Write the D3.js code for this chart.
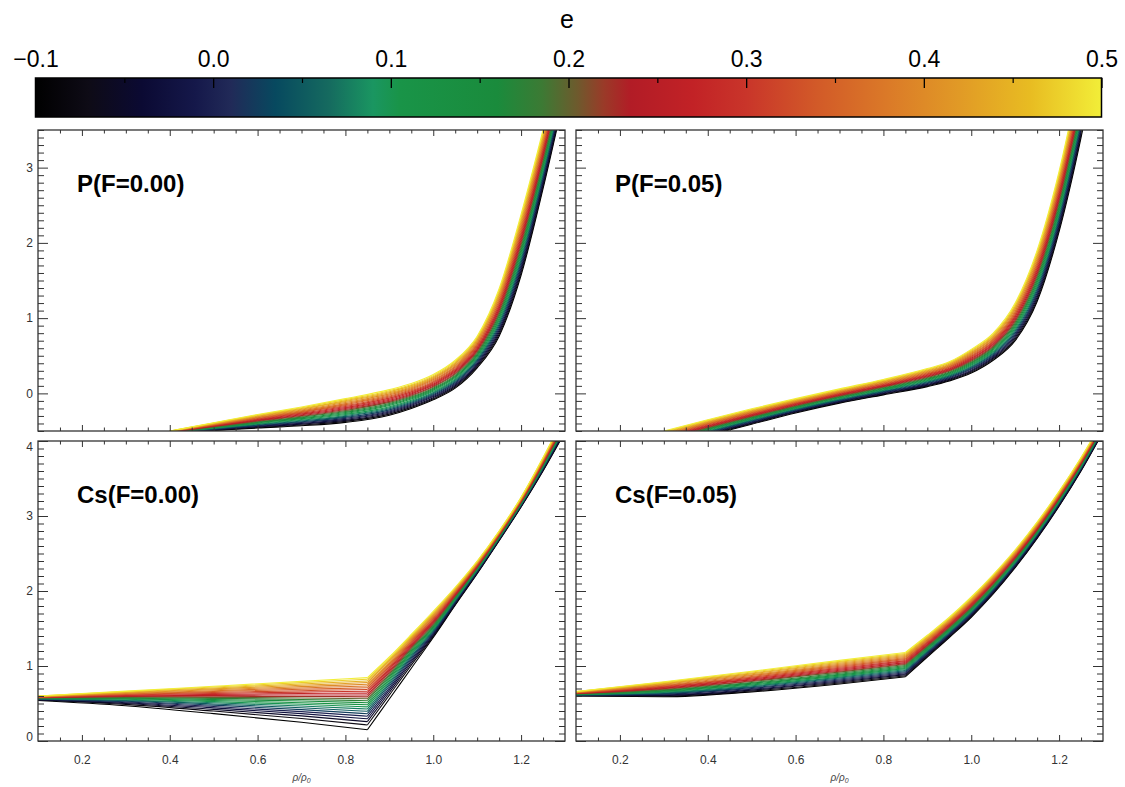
<!DOCTYPE html>
<html><head><meta charset="utf-8">
<script src="https://cdn.jsdelivr.net/npm/d3@7"></script>
<style>
body{margin:0;background:#fff}
svg{display:block}
text{font-family:"Liberation Sans",Arial,Helvetica,sans-serif}
</style>
</head><body>
<svg id="c" width="1125" height="787"></svg>
<script>
// ---------------- data ----------------
const eValues = [-0.1,-0.075,-0.05,-0.025,0,0.025,0.05,0.075,0.1,0.125,0.15,0.175,0.2,0.225,0.25,0.275,0.3,0.325,0.35,0.375,0.4,0.425,0.45,0.475,0.5];
const colorStopE = [-0.1,-0.07,-0.04,-0.01,0.01,0.035,0.065,0.09,0.105,0.16,0.185,0.205,0.22,0.235,0.27,0.30,0.34,0.38,0.42,0.46,0.50];
const colorStopC = ["#000000","#0e0b16","#0b0a33","#15184a","#212a58","#07495f","#156a5f","#1a9661","#199448","#1a8b3c","#3c7a34","#6e5a2d","#9a3a28","#b21c26","#c22226","#c9352a","#d25a28","#db7a28","#e19a26","#e8bc22","#f2ee38"];
const colorbarTicks = [-0.1,0,0.1,0.2,0.3,0.4,0.5];
const colorbarMinor = [-0.05,0.05,0.15,0.25,0.35,0.45];
const xTicks = [0.2,0.4,0.6,0.8,1.0,1.2];
const xMinor = [0.15,0.25,0.3,0.35,0.45,0.5,0.55,0.65,0.7,0.75,0.85,0.9,0.95,1.05,1.1,1.15,1.25];
const yTicksP = [0,1,2,3];
const yTicksCs = [0,1,2,3,4];

// x positions of sampled rows (one row = value of each of the 25 curves)
const xP00 = [0.40,0.50,0.60,0.70,0.80,0.90,0.95,1.00,1.05,1.10,1.15,1.20,1.25,1.30];
const pF000 = [
[-0.53,-0.529,-0.528,-0.526,-0.525,-0.524,-0.523,-0.521,-0.52,-0.519,-0.518,-0.516,-0.515,-0.514,-0.513,-0.511,-0.51,-0.509,-0.508,-0.506,-0.505,-0.504,-0.503,-0.501,-0.5],
[-0.495,-0.491,-0.486,-0.482,-0.478,-0.473,-0.469,-0.464,-0.46,-0.456,-0.451,-0.447,-0.443,-0.438,-0.434,-0.429,-0.425,-0.421,-0.416,-0.412,-0.408,-0.403,-0.399,-0.394,-0.39],
[-0.46,-0.453,-0.445,-0.438,-0.43,-0.423,-0.415,-0.408,-0.4,-0.393,-0.385,-0.378,-0.37,-0.363,-0.355,-0.348,-0.34,-0.333,-0.325,-0.318,-0.31,-0.303,-0.295,-0.288,-0.28],
[-0.43,-0.42,-0.409,-0.399,-0.388,-0.378,-0.368,-0.357,-0.347,-0.336,-0.326,-0.315,-0.305,-0.295,-0.284,-0.274,-0.263,-0.253,-0.243,-0.232,-0.222,-0.211,-0.201,-0.19,-0.18],
[-0.385,-0.372,-0.359,-0.346,-0.332,-0.319,-0.306,-0.293,-0.28,-0.267,-0.254,-0.241,-0.227,-0.214,-0.201,-0.188,-0.175,-0.162,-0.149,-0.136,-0.122,-0.109,-0.096,-0.083,-0.07],
[-0.29,-0.276,-0.262,-0.247,-0.233,-0.219,-0.205,-0.191,-0.177,-0.162,-0.148,-0.134,-0.12,-0.106,-0.092,-0.077,-0.063,-0.049,-0.035,-0.021,-0.007,0.008,0.022,0.036,0.05],
[-0.2,-0.186,-0.172,-0.159,-0.145,-0.131,-0.117,-0.104,-0.09,-0.076,-0.062,-0.049,-0.035,-0.021,-0.007,0.006,0.02,0.034,0.048,0.061,0.075,0.089,0.103,0.116,0.13],
[-0.085,-0.071,-0.057,-0.043,-0.029,-0.015,-0.001,0.013,0.027,0.041,0.055,0.069,0.083,0.096,0.11,0.124,0.138,0.152,0.166,0.18,0.194,0.208,0.222,0.236,0.25],
[0.07,0.085,0.101,0.116,0.132,0.147,0.163,0.178,0.193,0.209,0.224,0.24,0.255,0.27,0.286,0.301,0.317,0.332,0.348,0.363,0.378,0.394,0.409,0.425,0.44],
[0.34,0.358,0.375,0.393,0.41,0.428,0.445,0.463,0.48,0.498,0.515,0.533,0.55,0.568,0.585,0.603,0.62,0.638,0.655,0.673,0.69,0.708,0.725,0.743,0.76],
[0.76,0.786,0.813,0.839,0.865,0.891,0.918,0.944,0.97,0.996,1.023,1.049,1.075,1.101,1.128,1.154,1.18,1.206,1.233,1.259,1.285,1.311,1.338,1.364,1.39],
[1.57,1.604,1.638,1.671,1.705,1.739,1.773,1.806,1.84,1.874,1.908,1.941,1.975,2.009,2.043,2.076,2.11,2.144,2.178,2.211,2.245,2.279,2.313,2.346,2.38],
[2.72,2.753,2.785,2.818,2.85,2.883,2.915,2.948,2.98,3.013,3.045,3.078,3.11,3.143,3.175,3.208,3.24,3.273,3.305,3.338,3.37,3.403,3.435,3.468,3.5],
[4,4.029,4.058,4.088,4.117,4.146,4.175,4.204,4.233,4.263,4.292,4.321,4.35,4.379,4.408,4.438,4.467,4.496,4.525,4.554,4.583,4.613,4.642,4.671,4.7]
];

const xP05 = [0.30,0.40,0.50,0.60,0.70,0.80,0.90,0.95,1.00,1.05,1.10,1.15,1.20,1.25,1.30];
const pF005 = [
[-0.72,-0.711,-0.702,-0.692,-0.683,-0.674,-0.665,-0.656,-0.647,-0.637,-0.628,-0.619,-0.61,-0.601,-0.592,-0.582,-0.573,-0.564,-0.555,-0.546,-0.537,-0.527,-0.518,-0.509,-0.5],
[-0.56,-0.551,-0.542,-0.534,-0.525,-0.516,-0.507,-0.499,-0.49,-0.481,-0.472,-0.464,-0.455,-0.446,-0.437,-0.429,-0.42,-0.411,-0.402,-0.394,-0.385,-0.376,-0.367,-0.359,-0.35],
[-0.41,-0.401,-0.393,-0.384,-0.376,-0.367,-0.359,-0.35,-0.342,-0.333,-0.325,-0.316,-0.308,-0.299,-0.29,-0.282,-0.273,-0.265,-0.256,-0.248,-0.239,-0.231,-0.222,-0.214,-0.205],
[-0.26,-0.252,-0.244,-0.236,-0.228,-0.22,-0.213,-0.205,-0.197,-0.189,-0.181,-0.173,-0.165,-0.157,-0.149,-0.141,-0.133,-0.125,-0.118,-0.11,-0.102,-0.094,-0.086,-0.078,-0.07],
[-0.13,-0.122,-0.114,-0.106,-0.098,-0.09,-0.083,-0.075,-0.067,-0.059,-0.051,-0.043,-0.035,-0.027,-0.019,-0.011,-0.003,0.005,0.013,0.02,0.028,0.036,0.044,0.052,0.06],
[-0.02,-0.011,-0.003,0.006,0.014,0.023,0.031,0.04,0.048,0.057,0.065,0.074,0.083,0.091,0.1,0.108,0.117,0.125,0.134,0.142,0.151,0.159,0.168,0.176,0.185],
[0.09,0.1,0.11,0.12,0.13,0.14,0.15,0.16,0.17,0.18,0.19,0.2,0.21,0.22,0.23,0.24,0.25,0.26,0.27,0.28,0.29,0.3,0.31,0.32,0.33],
[0.165,0.176,0.186,0.197,0.208,0.218,0.229,0.239,0.25,0.261,0.271,0.282,0.293,0.303,0.314,0.324,0.335,0.346,0.356,0.367,0.378,0.388,0.399,0.409,0.42],
[0.27,0.283,0.296,0.309,0.323,0.336,0.349,0.362,0.375,0.388,0.401,0.414,0.428,0.441,0.454,0.467,0.48,0.493,0.506,0.519,0.533,0.546,0.559,0.572,0.585],
[0.44,0.455,0.47,0.485,0.5,0.515,0.53,0.545,0.56,0.575,0.59,0.605,0.62,0.635,0.65,0.665,0.68,0.695,0.71,0.725,0.74,0.755,0.77,0.785,0.8],
[0.7,0.721,0.742,0.763,0.783,0.804,0.825,0.846,0.867,0.888,0.908,0.929,0.95,0.971,0.992,1.013,1.033,1.054,1.075,1.096,1.117,1.138,1.158,1.179,1.2],
[1.22,1.248,1.277,1.305,1.333,1.362,1.39,1.418,1.447,1.475,1.503,1.532,1.56,1.588,1.617,1.645,1.673,1.702,1.73,1.758,1.787,1.815,1.843,1.872,1.9],
[2.15,2.183,2.217,2.25,2.283,2.317,2.35,2.383,2.417,2.45,2.483,2.517,2.55,2.583,2.617,2.65,2.683,2.717,2.75,2.783,2.817,2.85,2.883,2.917,2.95],
[3.4,3.438,3.475,3.513,3.55,3.588,3.625,3.663,3.7,3.738,3.775,3.813,3.85,3.888,3.925,3.963,4,4.038,4.075,4.113,4.15,4.188,4.225,4.263,4.3],
[4.9,4.933,4.967,5,5.033,5.067,5.1,5.133,5.167,5.2,5.233,5.267,5.3,5.333,5.367,5.4,5.433,5.467,5.5,5.533,5.567,5.6,5.633,5.667,5.7]
];

const xCs = [0.10,0.30,0.50,0.70,0.85,0.90,0.95,1.00,1.05,1.10,1.15,1.20,1.25,1.30];
const kinkIndex = 4;
const csF000 = [
[0.54,0.546,0.549,0.553,0.556,0.559,0.561,0.564,0.566,0.569,0.571,0.573,0.576,0.578,0.58,0.582,0.584,0.586,0.588,0.59,0.592,0.594,0.596,0.598,0.6],
[0.47,0.488,0.5,0.511,0.521,0.53,0.539,0.547,0.556,0.563,0.571,0.579,0.586,0.593,0.6,0.607,0.614,0.621,0.627,0.634,0.64,0.646,0.653,0.659,0.665],
[0.365,0.399,0.422,0.442,0.46,0.478,0.494,0.51,0.525,0.54,0.554,0.568,0.582,0.596,0.609,0.622,0.634,0.647,0.659,0.671,0.683,0.695,0.707,0.719,0.73],
[0.25,0.3,0.335,0.365,0.392,0.418,0.443,0.466,0.489,0.511,0.533,0.554,0.574,0.594,0.614,0.633,0.652,0.671,0.689,0.707,0.725,0.743,0.761,0.778,0.795],
[0.15,0.214,0.258,0.296,0.331,0.364,0.396,0.426,0.455,0.483,0.51,0.537,0.563,0.589,0.614,0.639,0.663,0.687,0.71,0.733,0.756,0.779,0.801,0.823,0.845],
[0.56,0.612,0.647,0.678,0.706,0.733,0.758,0.782,0.806,0.828,0.85,0.872,0.893,0.914,0.934,0.954,0.973,0.992,1.011,1.03,1.048,1.067,1.085,1.102,1.12],
[0.97,1.012,1.04,1.065,1.087,1.109,1.129,1.149,1.167,1.186,1.203,1.221,1.238,1.254,1.27,1.286,1.302,1.318,1.333,1.348,1.363,1.377,1.392,1.406,1.42],
[1.38,1.395,1.409,1.424,1.438,1.453,1.468,1.482,1.497,1.511,1.526,1.54,1.555,1.57,1.584,1.599,1.613,1.628,1.643,1.657,1.672,1.686,1.701,1.715,1.73],
[1.81,1.82,1.83,1.84,1.85,1.86,1.87,1.88,1.89,1.9,1.91,1.92,1.93,1.94,1.95,1.96,1.97,1.98,1.99,2,2.01,2.02,2.03,2.04,2.05],
[2.23,2.237,2.244,2.251,2.258,2.265,2.273,2.28,2.287,2.294,2.301,2.308,2.315,2.322,2.329,2.336,2.343,2.35,2.358,2.365,2.372,2.379,2.386,2.393,2.4],
[2.67,2.675,2.681,2.686,2.692,2.697,2.703,2.708,2.713,2.719,2.724,2.73,2.735,2.74,2.746,2.751,2.757,2.762,2.768,2.773,2.778,2.784,2.789,2.795,2.8],
[3.12,3.125,3.131,3.136,3.142,3.147,3.153,3.158,3.163,3.169,3.174,3.18,3.185,3.19,3.196,3.201,3.207,3.212,3.218,3.223,3.228,3.234,3.239,3.245,3.25],
[3.6,3.608,3.615,3.623,3.63,3.638,3.645,3.653,3.66,3.668,3.675,3.683,3.69,3.698,3.705,3.713,3.72,3.728,3.735,3.743,3.75,3.758,3.765,3.773,3.78],
[4.12,4.13,4.139,4.149,4.158,4.168,4.178,4.187,4.197,4.206,4.216,4.225,4.235,4.245,4.254,4.264,4.273,4.283,4.293,4.302,4.312,4.321,4.331,4.34,4.35]
];
const csF005 = [
[0.6,0.603,0.605,0.608,0.61,0.613,0.615,0.618,0.62,0.623,0.625,0.628,0.63,0.633,0.635,0.638,0.64,0.643,0.645,0.648,0.65,0.653,0.655,0.658,0.66],
[0.59,0.598,0.607,0.615,0.623,0.632,0.64,0.648,0.657,0.665,0.673,0.682,0.69,0.698,0.707,0.715,0.723,0.732,0.74,0.748,0.757,0.765,0.773,0.782,0.79],
[0.655,0.666,0.678,0.689,0.701,0.712,0.724,0.735,0.747,0.758,0.77,0.781,0.793,0.804,0.815,0.827,0.838,0.85,0.861,0.873,0.884,0.896,0.907,0.919,0.93],
[0.76,0.773,0.786,0.799,0.813,0.826,0.839,0.852,0.865,0.878,0.891,0.904,0.918,0.931,0.944,0.957,0.97,0.983,0.996,1.009,1.023,1.036,1.049,1.062,1.075],
[0.857,0.87,0.884,0.897,0.911,0.924,0.938,0.951,0.965,0.978,0.992,1.005,1.019,1.032,1.045,1.059,1.072,1.086,1.099,1.113,1.126,1.14,1.153,1.167,1.18],
[1.12,1.132,1.144,1.156,1.168,1.18,1.193,1.205,1.217,1.229,1.241,1.253,1.265,1.277,1.289,1.301,1.313,1.325,1.338,1.35,1.362,1.374,1.386,1.398,1.41],
[1.38,1.391,1.403,1.414,1.425,1.436,1.448,1.459,1.47,1.481,1.493,1.504,1.515,1.526,1.538,1.549,1.56,1.571,1.583,1.594,1.605,1.616,1.628,1.639,1.65],
[1.65,1.661,1.673,1.684,1.695,1.706,1.718,1.729,1.74,1.751,1.763,1.774,1.785,1.796,1.808,1.819,1.83,1.841,1.853,1.864,1.875,1.886,1.898,1.909,1.92],
[1.96,1.971,1.982,1.993,2.003,2.014,2.025,2.036,2.047,2.058,2.068,2.079,2.09,2.101,2.112,2.123,2.133,2.144,2.155,2.166,2.177,2.188,2.198,2.209,2.22],
[2.31,2.32,2.33,2.34,2.35,2.36,2.37,2.38,2.39,2.4,2.41,2.42,2.43,2.44,2.45,2.46,2.47,2.48,2.49,2.5,2.51,2.52,2.53,2.54,2.55],
[2.7,2.709,2.718,2.728,2.737,2.746,2.755,2.764,2.773,2.783,2.792,2.801,2.81,2.819,2.828,2.838,2.847,2.856,2.865,2.874,2.883,2.893,2.902,2.911,2.92],
[3.13,3.138,3.147,3.155,3.163,3.172,3.18,3.188,3.197,3.205,3.213,3.222,3.23,3.238,3.247,3.255,3.263,3.272,3.28,3.288,3.297,3.305,3.313,3.322,3.33],
[3.6,3.608,3.615,3.623,3.63,3.638,3.645,3.653,3.66,3.668,3.675,3.683,3.69,3.698,3.705,3.713,3.72,3.728,3.735,3.743,3.75,3.758,3.765,3.773,3.78],
[4.12,4.127,4.133,4.14,4.147,4.153,4.16,4.167,4.173,4.18,4.187,4.193,4.2,4.207,4.213,4.22,4.227,4.233,4.24,4.247,4.253,4.26,4.267,4.273,4.28]
];

// ---------------- drawing ----------------
const svg = d3.select("#c");
const color = d3.scaleLinear().domain(colorStopE).range(colorStopC).interpolate(d3.interpolateRgb);
const frameColor = "#333";

// colour bar
const cb = {x0:35.5, x1:1101.5, y0:78, y1:117};
const cbScale = d3.scaleLinear().domain([-0.1,0.5]).range([cb.x0, cb.x1]);
const defs = svg.append("defs");
const grad = defs.append("linearGradient").attr("id","cbgrad").attr("x1","0%").attr("x2","100%").attr("y1","0%").attr("y2","0%");
colorStopE.forEach((e,i)=>{
  grad.append("stop").attr("offset", ((e+0.1)/0.6*100)+"%").attr("stop-color", colorStopC[i]);
});
svg.append("rect").attr("x",cb.x0).attr("y",cb.y0).attr("width",cb.x1-cb.x0).attr("height",cb.y1-cb.y0)
  .attr("fill","url(#cbgrad)").attr("stroke","#000").attr("stroke-width",1.5);
const cbAxis = svg.append("g").attr("transform",`translate(0,${cb.y0})`)
  .call(d3.axisTop(cbScale).tickValues(colorbarTicks).tickSizeInner(-10).tickSizeOuter(0).tickPadding(11.5).tickFormat(d3.format(".1f")));
cbAxis.select(".domain").remove();
cbAxis.selectAll("line").attr("stroke","#000").attr("stroke-width",1.3);
cbAxis.selectAll("text").attr("font-size",23).attr("fill","#000").attr("font-family",'"Liberation Sans",Arial,sans-serif');
const cbMinor = svg.append("g").attr("transform",`translate(0,${cb.y0})`)
  .call(d3.axisTop(cbScale).tickValues(colorbarMinor).tickSizeInner(-5).tickSizeOuter(0).tickFormat(""));
cbMinor.select(".domain").remove();
cbMinor.selectAll("line").attr("stroke","#000").attr("stroke-width",1.2);
svg.append("text").attr("x",567).attr("y",28).attr("text-anchor","middle").attr("font-size",25).attr("fill","#000").text("e");

// panels
const panels = [
  {x0:38, x1:565, y0:130, y1:431, yDomain:[-0.5,3.5], yTicks:yTicksP, showY:true, showX:false, title:"P(F=0.00)", xs:xP00, rows:pF000, kink:null},
  {x0:576, x1:1103, y0:130, y1:431, yDomain:[-0.5,3.5], yTicks:yTicksP, showY:false, showX:false, title:"P(F=0.05)", xs:xP05, rows:pF005, kink:null},
  {x0:38, x1:565, y0:441, y1:741, yDomain:[0,4], yTicks:yTicksCs, showY:true, showX:true, title:"Cs(F=0.00)", xs:xCs, rows:csF000, kink:kinkIndex},
  {x0:576, x1:1103, y0:441, y1:741, yDomain:[0,4], yTicks:yTicksCs, showY:false, showX:true, title:"Cs(F=0.05)", xs:xCs, rows:csF005, kink:kinkIndex}
];

panels.forEach((p,pi)=>{
  const x = d3.scaleLinear().domain([0.1,1.3]).range([p.x0,p.x1]);
  const y = d3.scaleLinear().domain(p.yDomain).range([p.y1,p.y0]);
  const yMinor = d3.range(Math.round(p.yDomain[0]*10), Math.round(p.yDomain[1]*10)+1).map(v=>v/10).filter(v=>Math.abs(v-Math.round(v))>1e-6);
  defs.append("clipPath").attr("id","clip"+pi).append("rect")
    .attr("x",p.x0).attr("y",p.y0).attr("width",p.x1-p.x0).attr("height",p.y1-p.y0);
  const g = svg.append("g").attr("clip-path",`url(#clip${pi})`);
  const line = d3.line().x(d=>x(d[0])).y(d=>y(d[1])).defined(d=>d[1]!=null && isFinite(d[1])).curve(d3.curveMonotoneX);
  eValues.forEach((e,i)=>{
    const pts = p.xs.map((xv,j)=>[xv, p.rows[j][i]]);
    const pieces = p.kink==null ? [pts] : [pts.slice(0,p.kink+1), pts.slice(p.kink)];
    pieces.forEach(pc=>{
      g.append("path").attr("d",line(pc)).attr("fill","none")
        .attr("stroke",color(e)).attr("stroke-width",1.1);
    });
  });

  // axes (ticks pointing inward on all four sides)
  const ax = (gen, tr, vals, size, fmt, pad)=>{
    const a = svg.append("g").attr("transform",tr)
      .call(gen.tickValues(vals).tickSizeInner(size).tickSizeOuter(0).tickPadding(pad||3).tickFormat(fmt||""));
    a.select(".domain").remove();
    a.selectAll("line").attr("stroke",frameColor).attr("stroke-width",1);
    a.selectAll("text").attr("font-size",12).attr("fill","#333").attr("font-family",'"Liberation Sans",Arial,sans-serif');
    return a;
  };
  ax(d3.axisBottom(x), `translate(0,${p.y1})`, xTicks, -6, p.showX ? d3.format(".1f") : "", 14);
  ax(d3.axisBottom(x), `translate(0,${p.y1})`, xMinor, -3.5);
  ax(d3.axisTop(x), `translate(0,${p.y0})`, xTicks, -6);
  ax(d3.axisTop(x), `translate(0,${p.y0})`, xMinor, -3.5);
  const yl = ax(d3.axisLeft(y), `translate(${p.x0},0)`, p.yTicks, -10, p.showY ? d3.format("d") : "", 5);
  if (p.showY) {
    yl.selectAll("text").attr("dy", d => d===p.yDomain[1] ? "0.75em" : (d===p.yDomain[0] ? "-0.05em" : "0.32em"));
  }
  ax(d3.axisLeft(y), `translate(${p.x0},0)`, yMinor, -6);
  ax(d3.axisRight(y), `translate(${p.x1},0)`, p.yTicks, -10);
  ax(d3.axisRight(y), `translate(${p.x1},0)`, yMinor, -6);

  svg.append("rect").attr("x",p.x0).attr("y",p.y0).attr("width",p.x1-p.x0).attr("height",p.y1-p.y0)
    .attr("fill","none").attr("stroke",frameColor).attr("stroke-width",1.3);

  svg.append("text").attr("x",p.x0+39).attr("y",p.y0+62)
    .attr("font-size",24).attr("font-weight","bold").attr("fill","#000").text(p.title);

  if (p.showX) {
    const t = svg.append("text").attr("x",(p.x0+p.x1)/2).attr("y",781).attr("text-anchor","middle")
      .attr("font-size",10).attr("font-style","italic").attr("fill","#444");
    t.append("tspan").text("ρ/ρ");
    t.append("tspan").attr("font-size",7).attr("dy",2).text("0");
  }
});
</script>
</body></html>
